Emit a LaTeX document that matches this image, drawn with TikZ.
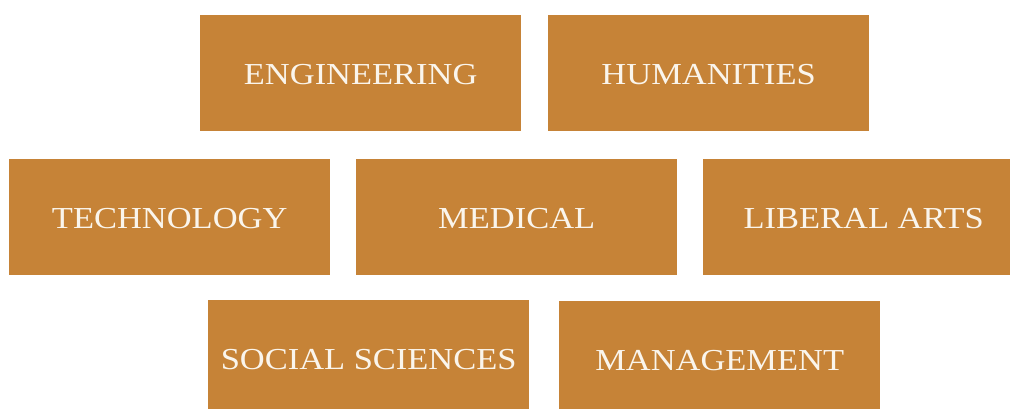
\documentclass[tikz,border=0pt]{standalone}
\usepackage{fontspec}
\setmainfont{Liberation Serif}[FakeStretch=1.13]
\definecolor{boxfill}{HTML}{C68337}
\definecolor{boxtext}{HTML}{FAF5EC}
\begin{document}
\begin{tikzpicture}[x=1pt,y=-1pt,
  field/.style={fill=boxfill, draw=none, inner sep=0pt, anchor=north west,
    minimum width=321pt, minimum height=116pt,
    text=boxtext, font=\fontsize{30.5}{34}\selectfont,
    text height=23pt, text depth=0pt}]
\clip (0,0) rectangle (1010,409);
\fill[white] (0,0) rectangle (1010,409);
\node[field] (eng) at (200,15) {ENGINEERING};
\node[field] (hum) at (548,15) {HUMANITIES};
\node[field] (tech) at (9,159) {TECHNOLOGY};
\node[field] (med) at (356,159) {MEDICAL};
\node[field] (lib) at (703,159) {LIBERAL ARTS};
\node[field] (soc) at (208,300) {SOCIAL SCIENCES};
\node[field] (man) at (559,301) {MANAGEMENT};
\end{tikzpicture}
\end{document}
